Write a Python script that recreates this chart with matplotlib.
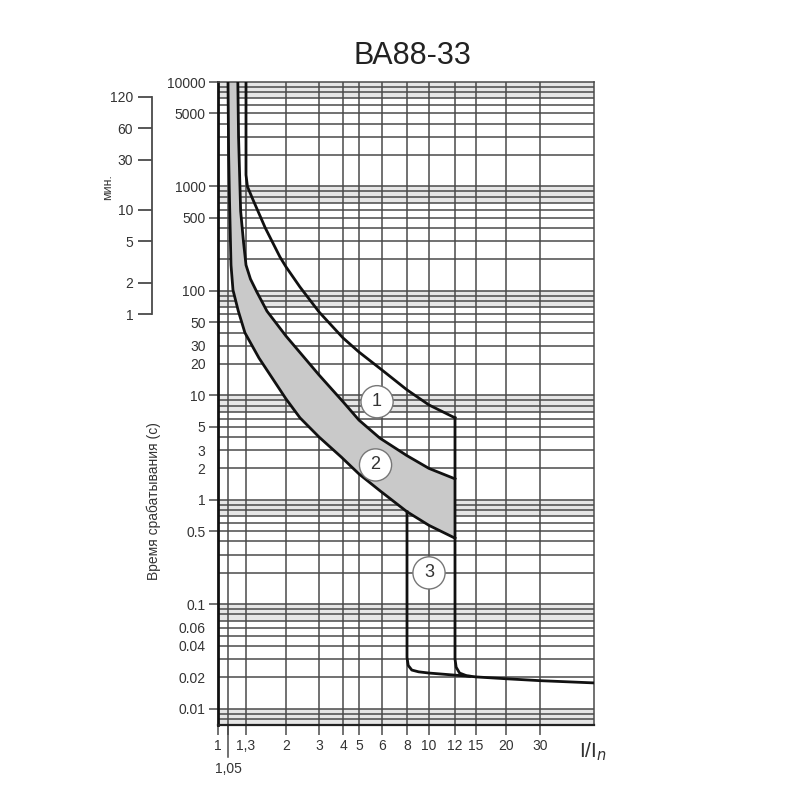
import numpy as np
import matplotlib
matplotlib.use("Agg")
import matplotlib.pyplot as plt
from matplotlib.ticker import NullLocator

plt.rcParams['font.family'] = ['Liberation Sans', 'DejaVu Sans']

title = 'ВА88-33'
ylabel = 'Время срабатывания (с)'
min_label = 'мин.'

# ось X (I/In)
x_ticks = [1, 1.05, 1.3, 2, 3, 4, 5, 6, 8, 10, 12, 15, 20, 30]
x_labels = ['1', '', '1,3', '2', '3', '4', '5', '6', '8', '10', '12', '15', '20', '30']
x_extra = 1.05
x_extra_lbl = '1,05'
x_max = 50

# ось Y (секунды)
y_major = [10000, 5000, 1000, 500, 100, 50, 10, 5, 1, 0.5, 0.1, 0.01]
y_major_lbl = ['10000', '5000', '1000', '500', '100', '50', '10', '5', '1', '0.5', '0.1', '0.01']
y_minor = [30, 20, 3, 2, 0.06, 0.04, 0.02]
y_minor_lbl = ['30', '20', '3', '2', '0.06', '0.04', '0.02']
y_min, y_max = 0.007, 10000

# шкала минут
min_ticks = [120, 60, 30, 10, 5, 2, 1]

# кривая 1 (верхняя)
c1_x = [1.3, 1.3, 1.32, 1.39, 1.6, 1.875, 2, 2.375, 3, 4, 5, 6, 8, 10, 12]
c1_y = [10000, 1290, 1000, 776, 401, 211, 170, 109, 63, 35.5, 26, 17.5, 11.3, 8.1, 6.1]
# кривая 2 (средняя)
c2_x = [1.18, 1.19, 1.22, 1.262, 1.3, 1.364, 1.46, 1.63, 2, 3, 4, 5, 5.9, 8, 10, 12]
c2_y = [10000, 3000, 580, 294, 177, 130, 98, 64, 37, 15.7, 8.7, 5.8, 3.9, 2.65, 2.0, 1.59]
# кривая 3 (нижняя)
c3_x = [1.05, 1.058, 1.069, 1.088, 1.114, 1.186, 1.284, 1.495, 2, 2.375, 3, 3.91, 5, 5.91, 8, 10, 12]
c3_y = [10000, 2000, 743, 177, 102, 64.4, 39.7, 22.8, 9.26, 6.1, 4.0, 2.58, 1.77, 1.22, 0.77, 0.57, 0.43]
# мгновенное срабатывание
i8_x = [8, 8, 8.1, 8.4, 9, 10, 12, 14]
i8_y = [0.77, 0.031, 0.026, 0.0235, 0.0226, 0.022, 0.021, 0.0205]
i12_x = [12, 12, 12.15, 12.6, 13.6, 15, 20, 30, 50]
i12_y = [6.1, 0.03, 0.025, 0.022, 0.0207, 0.0202, 0.0194, 0.0186, 0.0177]

# номера кривых
mark_txt = ['1', '2', '3']
mark_x = [5.77, 5.7, 10.0]
mark_y = [8.7, 2.16, 0.2]

# неравномерная шкала X как на бланке
kx = [0.01, 1, 1.05, 1.3, 2, 3, 4, 5, 6, 8, 10, 12, 15, 20, 30, 50, 10000]
kp = [-422, 0, 10, 28, 68, 101, 125, 141, 164, 189, 211, 237, 258, 288, 322, 376, 820]
lk = np.log10(kx)


def fwd(x):
    x = np.clip(np.asarray(x, float), 1e-2, 1e4)
    return np.interp(np.log10(x), lk, kp)


def inv(p):
    return 10 ** np.interp(np.asarray(p, float), kp, lk)


grid_c = '#4a4a4a'
txt_c = '#333333'

fig = plt.figure(figsize=(8, 8), dpi=100)
ax = fig.add_axes([218 / 800, 75 / 800, 376 / 800, 643 / 800])
ax.set_xscale('function', functions=(fwd, inv))
ax.set_yscale('log')
ax.set_xlim(1, x_max)
ax.set_ylim(y_min, y_max)

# светлые полосы у начала декад
for n in range(-2, 5):
    ax.axhspan(0.7 * 10 ** n, 10 ** n, color='#e6e6e6', zorder=0, lw=0)

# сетка
for n in range(-3, 4):
    for k in range(1, 10):
        v = k * 10.0 ** n
        if y_min <= v <= y_max:
            ax.axhline(v, color=grid_c, lw=1.1, zorder=1)
for v in x_ticks[1:]:
    ax.axvline(v, color=grid_c, lw=1.1, zorder=1)

# полоса между кривыми 2 и 3
ax.fill(np.concatenate([c3_x, c2_x[::-1]]), np.concatenate([c3_y, c2_y[::-1]]),
        color='#c9c9c9', lw=0, zorder=2)

for xs, ys in [(c1_x, c1_y), (c2_x, c2_y), (c3_x, c3_y), (i8_x, i8_y), (i12_x, i12_y)]:
    ax.plot(xs, ys, color='#111111', lw=2, zorder=4, solid_joinstyle='round')

for t, x, y in zip(mark_txt, mark_x, mark_y):
    ax.text(x, y, t, ha='center', va='center', fontsize=13, color=txt_c, zorder=6,
            bbox=dict(boxstyle='circle,pad=0.42', fc='white', ec='#777777', lw=1))

ax.set_xticks(x_ticks, x_labels)
ax.xaxis.set_minor_locator(NullLocator())
ax.tick_params(axis='x', direction='out', length=7, width=1.1, color=grid_c,
               labelsize=10, labelcolor=txt_c, pad=3)
# длинная риска и подпись 1,05 ниже остальных
ax.plot([x_extra, x_extra], [0, -0.05], transform=ax.get_xaxis_transform(), clip_on=False,
        color=grid_c, lw=1.1)
ax.text(x_extra, -0.057, x_extra_lbl, transform=ax.get_xaxis_transform(), ha='center', va='top',
        fontsize=10, color=txt_c)

ax.set_yticks(y_major, y_major_lbl)
ax.set_yticks(y_minor, y_minor_lbl, minor=True)
ax.tick_params(axis='y', which='major', direction='out', length=6.5, width=1.1, color=grid_c,
               labelsize=10, labelcolor=txt_c, pad=2.5)
ax.tick_params(axis='y', which='minor', length=0, labelsize=10, labelcolor=txt_c, pad=9)

for s in ['top', 'right']:
    ax.spines[s].set_color(grid_c)
    ax.spines[s].set_linewidth(1.1)
ax.spines['left'].set_color('#111111')
ax.spines['left'].set_linewidth(2)
ax.spines['bottom'].set_color('#222222')
ax.spines['bottom'].set_linewidth(1.6)

# шкала в минутах
axm = fig.add_axes([152 / 800, 75 / 800, 0.001, 643 / 800])
axm.set_yscale('log')
axm.set_ylim(y_min, y_max)
for s in ['top', 'right', 'bottom']:
    axm.spines[s].set_visible(False)
axm.spines['left'].set_bounds(min_ticks[-1] * 60, min_ticks[0] * 60)
axm.spines['left'].set_color(grid_c)
axm.spines['left'].set_linewidth(1.3)
axm.set_yticks([m * 60 for m in min_ticks], [str(m) for m in min_ticks])
axm.yaxis.set_minor_locator(NullLocator())
axm.set_xticks([])
axm.patch.set_visible(False)
axm.tick_params(axis='y', direction='out', length=10, width=1.3, color=grid_c,
                labelsize=10, labelcolor=txt_c, pad=3.5)

fig.text(412 / 800, 1 - 56 / 800, title, ha='center', va='center', fontsize=22, color='#222222')
fig.text(108 / 800, 1 - 187 / 800, min_label, rotation=90, ha='center', va='center',
         fontsize=9, color=txt_c)
fig.text(154 / 800, 1 - 501 / 800, ylabel, rotation=90, ha='center', va='center',
         fontsize=10, color=txt_c)
fig.text(579 / 800, 1 - 752 / 800, 'I/I$_{n}$', ha='left', va='center', fontsize=15, color=txt_c)

fig.savefig('out.png', dpi=100, facecolor='white')
